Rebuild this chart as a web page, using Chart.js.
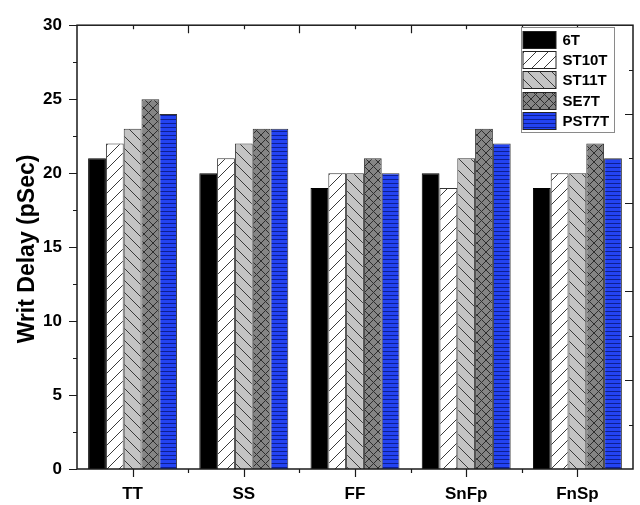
<!DOCTYPE html>
<html>
<head>
<meta charset="utf-8">
<script src="https://cdn.jsdelivr.net/npm/chart.js@4.4.1/dist/chart.umd.min.js"></script>
<style>
  html, body { margin: 0; padding: 0; background: #ffffff; }
  #wrap { width: 640px; height: 505px; }
</style>
</head>
<body>
<div id="wrap"><canvas id="chart" width="640" height="505"></canvas></div>
<script>
// Write delay per process corner for each SRAM cell
const corners = ['TT', 'SS', 'FF', 'SnFp', 'FnSp'];
const cells = ['6T', 'ST10T', 'ST11T', 'SE7T', 'PST7T'];
const delay6T    = [21, 20, 19, 20, 19];
const delayST10T = [22, 21, 20, 19, 20];
const delayST11T = [23, 22, 20, 21, 20];
const delaySE7T  = [25, 23, 21, 23, 22];
const delayPST7T = [24, 23, 20, 22, 21];
const yTicks = [0, 5, 10, 15, 20, 25, 30];
const yTitle = 'Writ Delay (pSec)';

const FONT = 'Arial, "Liberation Sans", sans-serif';

// Fill patterns for the bars
function makePattern(w, h, paint) {
  const c = document.createElement('canvas');
  c.width = w; c.height = h;
  const g = c.getContext('2d');
  paint(g, w, h);
  return g.createPattern(c, 'repeat');
}
const ctx = document.getElementById('chart').getContext('2d');

const solidBlack = '#000000';
const diagUp = makePattern(12, 12, (g, s) => {
  g.fillStyle = '#ffffff'; g.fillRect(0, 0, s, s);
  g.strokeStyle = '#3a3a3a'; g.lineWidth = 1;
  g.beginPath();
  g.moveTo(-1, s + 1); g.lineTo(s + 1, -1);
  g.moveTo(-2, 1); g.lineTo(1, -2);
  g.moveTo(s - 1, s + 2); g.lineTo(s + 2, s - 1);
  g.stroke();
});
const diagDown = makePattern(12, 12, (g, s) => {
  g.fillStyle = '#c4c4c4'; g.fillRect(0, 0, s, s);
  g.strokeStyle = '#3a3a3a'; g.lineWidth = 1;
  g.beginPath();
  g.moveTo(-1, -1); g.lineTo(s + 1, s + 1);
  g.moveTo(s - 1, -2); g.lineTo(s + 2, 1);
  g.moveTo(-2, s - 1); g.lineTo(1, s + 2);
  g.stroke();
});
const crossHatch = makePattern(9, 9, (g, s) => {
  g.fillStyle = '#858585'; g.fillRect(0, 0, s, s);
  g.strokeStyle = '#2e2e2e'; g.lineWidth = 1;
  g.beginPath();
  g.moveTo(-1, -1); g.lineTo(s + 1, s + 1);
  g.moveTo(-1, s + 1); g.lineTo(s + 1, -1);
  g.stroke();
});
const blueStripes = makePattern(4, 4, (g, w, h) => {
  g.fillStyle = '#2343f2'; g.fillRect(0, 0, w, h);
  g.fillStyle = '#0d1f93'; g.fillRect(0, 3, w, 1);
});

const fills = [solidBlack, diagUp, diagDown, crossHatch, blueStripes];
const series = [delay6T, delayST10T, delayST11T, delaySE7T, delayPST7T];

const datasets = cells.map((name, i) => ({
  label: name,
  data: series[i],
  backgroundColor: fills[i],
  borderColor: i === 0 ? '#000000' : '#333333',
  borderWidth: 1,
  borderSkipped: 'bottom',
  categoryPercentage: 0.8,
  barPercentage: 1.0
}));

// Frame, tick marks, axis title and boxed legend
const decorations = {
  id: 'decorations',
  afterDraw(chart) {
    const g = chart.ctx;
    const a = chart.chartArea;
    const xs = chart.scales.x, ys = chart.scales.y;
    g.save();
    g.strokeStyle = '#1a1a1a';
    g.lineWidth = 1.5;
    g.strokeRect(a.left, a.top, a.right - a.left, a.bottom - a.top);

    g.lineWidth = 1.2;
    g.beginPath();
    // left axis: major every 5, minor halfway
    for (let v = 0; v <= 30; v += 2.5) {
      const y = Math.round(ys.getPixelForValue(v)) + 0.5;
      const len = (v % 5 === 0) ? 8 : 4;
      g.moveTo(a.left, y); g.lineTo(a.left - len, y);
    }
    // bottom axis: major at categories, minor at boundaries
    const step = (a.right - a.left) / corners.length;
    for (let i = 0; i < corners.length; i++) {
      const x = Math.round(xs.getPixelForValue(i)) + 0.5;
      g.moveTo(x, a.bottom); g.lineTo(x, a.bottom + 8);
      if (i > 0) {
        const xb = Math.round(a.left + step * i) + 0.5;
        g.moveTo(xb, a.bottom); g.lineTo(xb, a.bottom + 4);
      }
    }
    // top axis: inward ticks at every half category
    for (let k = 1; k < 10; k++) {
      const x = Math.round(a.left + (a.right - a.left) * k / 10) + 0.5;
      const len = (k % 2 === 0) ? 8 : 4;
      g.moveTo(x, a.top); g.lineTo(x, a.top + len);
    }
    // right axis: inward ticks at every tenth of the height
    for (let k = 1; k < 10; k++) {
      const y = Math.round(a.bottom - (a.bottom - a.top) * k / 10) + 0.5;
      const len = (k % 2 === 0) ? 8 : 4;
      g.moveTo(a.right, y); g.lineTo(a.right - len, y);
    }
    g.stroke();

    // y axis title
    g.fillStyle = '#000000';
    g.font = 'bold 23px ' + FONT;
    g.textAlign = 'center';
    g.textBaseline = 'alphabetic';
    g.translate(34, 249);
    g.rotate(-Math.PI / 2);
    g.fillText(yTitle, 0, 0);
    g.restore();

    // legend
    g.save();
    const bx = 521.5, by = 27.5, bw = 93, bh = 105;
    g.fillStyle = '#ffffff';
    g.fillRect(bx, by, bw, bh);
    g.strokeStyle = '#8a8a8a';
    g.lineWidth = 1;
    g.strokeRect(bx, by, bw, bh);
    const rowH = 20.4;
    g.font = 'bold 15px ' + FONT;
    g.textAlign = 'left';
    g.textBaseline = 'middle';
    chart.data.datasets.forEach((ds, i) => {
      const sy = Math.round(by + 3 + i * rowH) + 0.5;
      g.fillStyle = ds.backgroundColor;
      g.fillRect(bx + 1.5, sy, 33, 17);
      g.strokeStyle = '#222222';
      g.strokeRect(bx + 1.5, sy, 33, 17);
      g.fillStyle = '#000000';
      g.fillText(ds.label, bx + 41, sy + 9);
    });
    g.restore();
  }
};

new Chart(ctx, {
  type: 'bar',
  data: { labels: corners, datasets },
  options: {
    responsive: false,
    animation: false,
    devicePixelRatio: 1,
    layout: { padding: { top: 16, right: 7, left: 0, bottom: 0 } },
    plugins: {
      legend: { display: false },
      tooltip: { enabled: false }
    },
    scales: {
      x: {
        grid: { display: false, drawTicks: false },
        border: { display: false },
        ticks: {
          color: '#000000',
          font: { family: FONT, size: 17, weight: 'bold' },
          padding: 15
        },
        afterFit(scale) { scale.height = 36; }
      },
      y: {
        min: 0,
        max: 30,
        afterBuildTicks(scale) { scale.ticks = yTicks.map(v => ({ value: v })); },
        grid: { display: false, drawTicks: false },
        border: { display: false },
        ticks: {
          color: '#000000',
          font: { family: FONT, size: 17, weight: 'bold' },
          padding: 15
        },
        afterFit(scale) { scale.width = 77; }
      }
    }
  },
  plugins: [decorations]
});
</script>
</body>
</html>
